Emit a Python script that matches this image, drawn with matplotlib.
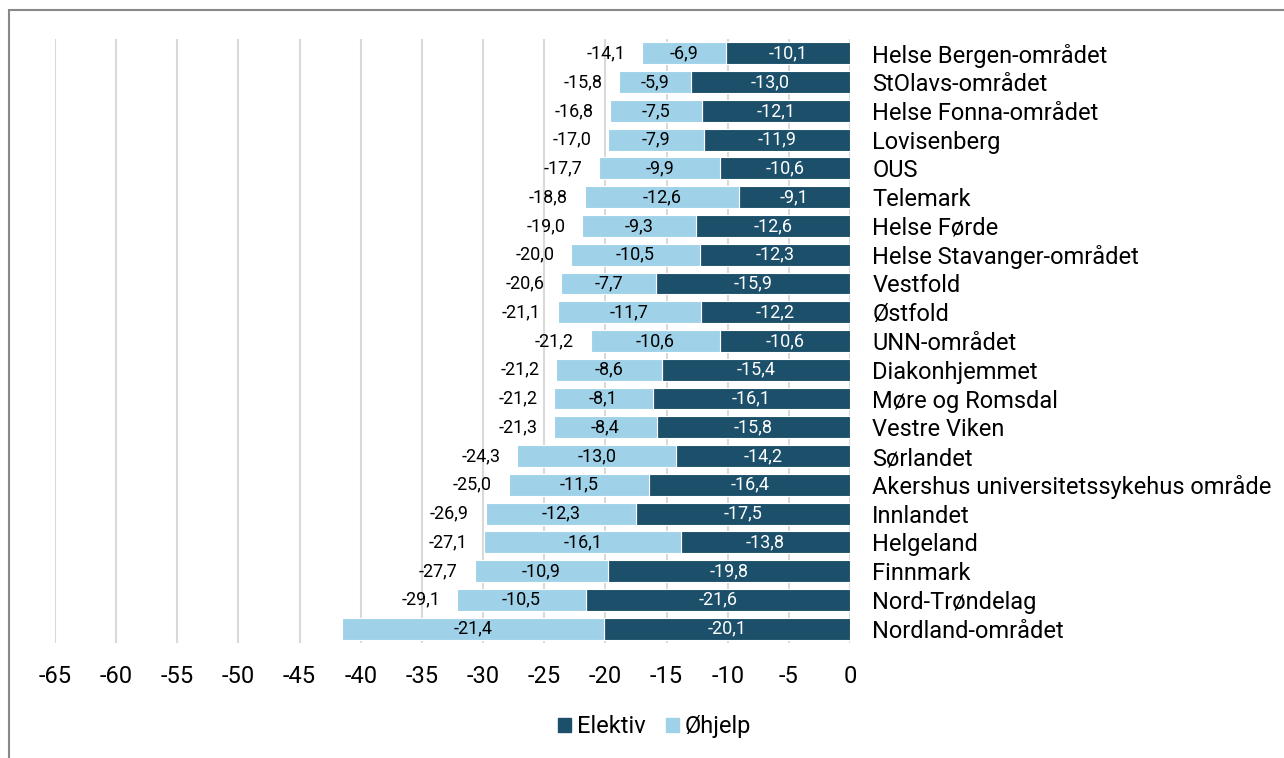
import matplotlib
matplotlib.use("Agg")
import matplotlib.pyplot as plt
from matplotlib.patches import Rectangle, Patch

plt.rcParams['font.family'] = ['Roboto', 'DejaVu Sans']

# data (top to bottom)
regions = ["Helse Bergen-området", "StOlavs-området", "Helse Fonna-området", "Lovisenberg",
           "OUS", "Telemark", "Helse Førde", "Helse Stavanger-området", "Vestfold", "Østfold",
           "UNN-området", "Diakonhjemmet", "Møre og Romsdal", "Vestre Viken", "Sørlandet",
           "Akershus universitetssykehus område", "Innlandet", "Helgeland", "Finnmark",
           "Nord-Trøndelag", "Nordland-området"]
elektiv = [-10.1, -13.0, -12.1, -11.9, -10.6, -9.1, -12.6, -12.3, -15.9, -12.2,
           -10.6, -15.4, -16.1, -15.8, -14.2, -16.4, -17.5, -13.8, -19.8, -21.6, -20.1]
ohjelp = [-6.9, -5.9, -7.5, -7.9, -9.9, -12.6, -9.3, -10.5, -7.7, -11.7,
          -10.6, -8.6, -8.1, -8.4, -13.0, -11.5, -12.3, -16.1, -10.9, -10.5, -21.4]
totalt = [-14.1, -15.8, -16.8, -17.0, -17.7, -18.8, -19.0, -20.0, -20.6, -21.1,
          -21.2, -21.2, -21.2, -21.3, -24.3, -25.0, -26.9, -27.1, -27.7, -29.1, None]
xticks = list(range(-65, 1, 5))

dark = "#1B4F6A"
light = "#9FD2E8"

def fmt(v):
    return f"{v:.1f}".replace(".", ",")

fig = plt.figure(figsize=(12.84, 7.58), dpi=100)
ax = fig.add_axes([55 / 1284, 1 - 643 / 758, (850 - 55) / 1284, 604 / 758])

y = list(range(len(regions)))
ax.barh(y, elektiv, height=0.76, color=dark, edgecolor="white", linewidth=0.8, zorder=3)
ax.barh(y, ohjelp, left=elektiv, height=0.76, color=light, edgecolor="white",
        linewidth=0.8, zorder=3)

for i in y:
    ax.text(elektiv[i] / 2, i, fmt(elektiv[i]), color="white", ha="center", va="center",
            fontsize=13, zorder=4)
    ax.text(elektiv[i] + ohjelp[i] / 2, i, fmt(ohjelp[i]), color="black", ha="center",
            va="center", fontsize=13, zorder=4)
    if totalt[i] is not None:
        end = elektiv[i] + ohjelp[i]
        ax.annotate(fmt(totalt[i]), (end, i), xytext=(-12, 0), textcoords="offset points",
                    ha="right", va="center", fontsize=13, zorder=4)

ax.set_xlim(-65, 0)
ax.set_ylim(len(regions) - 0.5, -0.5)
ax.set_xticks(xticks)
ax.set_xticklabels([str(t) for t in xticks], fontsize=17)
ax.tick_params(axis="x", length=0, pad=16)
ax.grid(axis="x", color="#d9d9d9", linewidth=1.5, zorder=0)

ax.yaxis.tick_right()
ax.set_yticks(y)
ax.set_yticklabels(regions, fontsize=17)
ax.tick_params(axis="y", length=0, pad=16)

for s in ax.spines.values():
    s.set_visible(False)

handles = [Patch(color=dark, label="Elektiv"), Patch(color=light, label="Øhjelp")]
fig.legend(handles=handles, loc="center", bbox_to_anchor=(0.51, 0.041), ncol=2,
           frameon=False, fontsize=17, handlelength=0.55, handleheight=0.55,
           handletextpad=0.25, columnspacing=0.85)

# outer chart frame (partially visible)
fig.patches.append(Rectangle((9 / 1284, -0.2), 2, 1.2 - 10 / 758, transform=fig.transFigure,
                             fill=False, edgecolor="#888888", linewidth=1.5))

fig.savefig("out.png", dpi=100)
